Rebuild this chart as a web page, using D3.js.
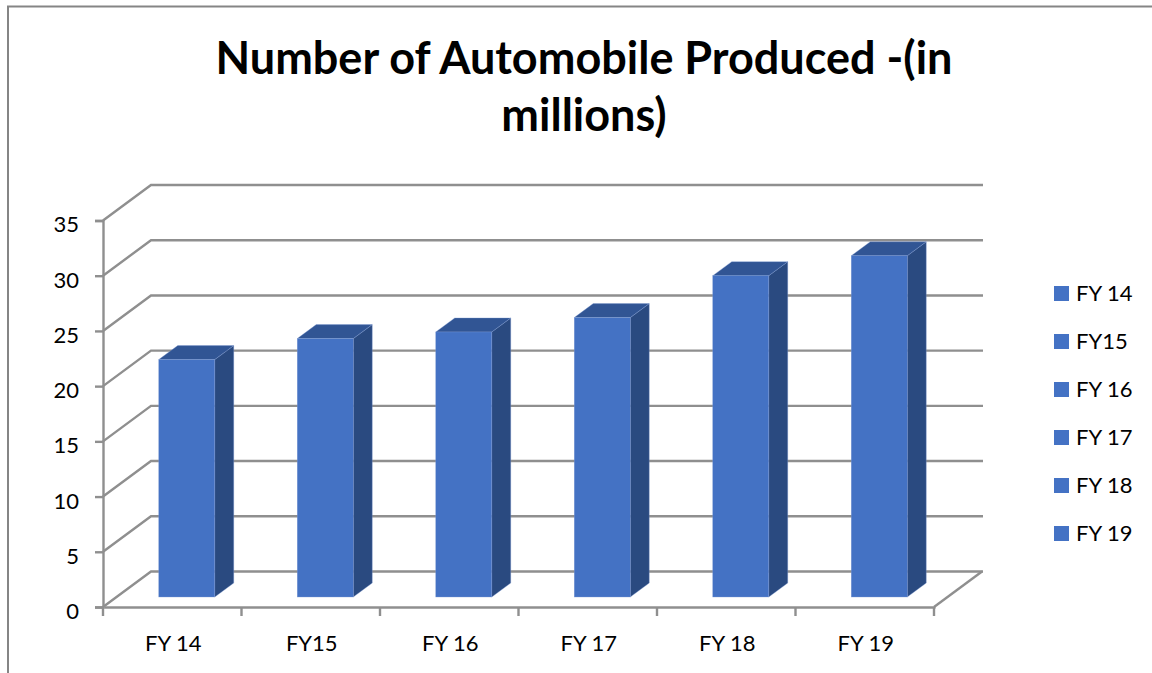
<!DOCTYPE html>
<html>
<head>
<meta charset="utf-8">
<script src="https://cdn.jsdelivr.net/npm/d3@7"></script>
<style>
  html, body { margin: 0; background: #fff; overflow: hidden; }
  text { font-family: Lato, "Open Sans", sans-serif; fill: #000; }
</style>
</head>
<body>
<div id="chart"></div>
<script>
const titleLines = ["Number of Automobile Produced -(in", "millions)"];
const categories = ["FY 14", "FY15", "FY 16", "FY 17", "FY 18", "FY 19"];
const values = [21.5, 23.4, 24.0, 25.3, 29.1, 30.9];
const yTicks = [0, 5, 10, 15, 20, 25, 30, 35];

const width = 1152, height = 673;
const svg = d3.select("#chart").append("svg")
  .attr("width", width).attr("height", height);

// frame, only top and left show in the crop
svg.append("path")
  .attr("d", "M8,673V6.5H1152")
  .attr("fill", "none").attr("stroke", "#858585").attr("stroke-width", 2);

// title
svg.append("g").selectAll("text").data(titleLines).enter().append("text")
  .attr("x", 584)
  .attr("y", (d, i) => 74 + i * 57)
  .attr("text-anchor", "middle")
  .attr("font-weight", 700)
  .attr("font-size", 45)
  .text(d => d);

const x = d3.scaleBand().domain(categories).range([103, 934]);
const y = d3.scaleLinear().domain([0, 35]).range([607, 220.5]);

// oblique depth of the 3d box
const depthX = 48, depthY = -35.5;
const gridColor = "#8f8f8f";

const walls = svg.append("g").attr("fill", "none").attr("stroke", gridColor).attr("stroke-width", 2.4);

// horizontal lines on back wall and the slanted part on the side wall
walls.selectAll(".grid").data(yTicks).enter().append("path")
  .attr("class", "grid")
  .attr("d", d => "M103," + y(d) + "l" + depthX + "," + depthY + "H983");

// floor right edge
walls.append("path").attr("d", "M934,607l" + depthX + "," + depthY);

// y axis
const yAxis = svg.append("g")
  .attr("transform", "translate(103,0)")
  .call(d3.axisLeft(y).tickValues(yTicks).tickSize(8).tickPadding(16));
// x axis, labels only, ticks sit on the band edges
const xAxis = svg.append("g")
  .attr("transform", "translate(1,607)")
  .call(d3.axisBottom(x).tickSize(0).tickPadding(28));

[yAxis, xAxis].forEach(a => {
  a.selectAll("path.domain").attr("stroke", gridColor).attr("stroke-width", 2.4);
  a.selectAll("line").attr("stroke", gridColor).attr("stroke-width", 2.4);
  a.selectAll("text").attr("font-size", 22).attr("font-family", null);
});
yAxis.selectAll("text").attr("dy", "0.52em");

svg.append("g").selectAll("line").data(categories.concat("end")).enter().append("line")
  .attr("x1", (d, i) => x.range()[0] + i * x.step())
  .attr("x2", (d, i) => x.range()[0] + i * x.step())
  .attr("y1", 607).attr("y2", 616)
  .attr("stroke", gridColor).attr("stroke-width", 2.4);

// bars: front face, side and top
const barWidth = 56, barDx = 19, barDy = -14;
const baseShift = 14.5, baseY = 597;
const barLeft = d => x(d) + x.bandwidth() / 2 - barWidth / 2 + baseShift;
const barTop = v => baseY - (y(0) - y(v));

const bars = svg.append("g").selectAll("g").data(categories).enter().append("g")
  .attr("stroke", "#7f9bd3").attr("stroke-width", 0.5).attr("stroke-opacity", 0.7);

bars.append("path")
  .attr("fill", "#2a4a80")
  .attr("d", (d, i) => {
    const r = barLeft(d) + barWidth, t = barTop(values[i]);
    return "M" + r + "," + t + "l" + barDx + "," + barDy + "V" + (baseY + barDy) + "l" + (-barDx) + "," + (-barDy) + "Z";
  });
bars.append("path")
  .attr("fill", "#315594")
  .attr("d", (d, i) => {
    const l = barLeft(d), t = barTop(values[i]);
    return "M" + l + "," + t + "l" + barDx + "," + barDy + "h" + barWidth + "l" + (-barDx) + "," + (-barDy) + "Z";
  });
bars.append("rect")
  .attr("fill", "#4472c4")
  .attr("x", d => barLeft(d))
  .attr("y", (d, i) => barTop(values[i]))
  .attr("width", barWidth)
  .attr("height", (d, i) => baseY - barTop(values[i]));

// legend
const legend = svg.append("g").selectAll("g").data(categories).enter().append("g")
  .attr("transform", (d, i) => "translate(1054," + (286 + i * 48) + ")");
legend.append("rect").attr("width", 15).attr("height", 15).attr("fill", "#4472c4");
legend.append("text")
  .attr("x", 22).attr("y", 15)
  .attr("font-size", 22)
  .text(d => d);
</script>
</body>
</html>
